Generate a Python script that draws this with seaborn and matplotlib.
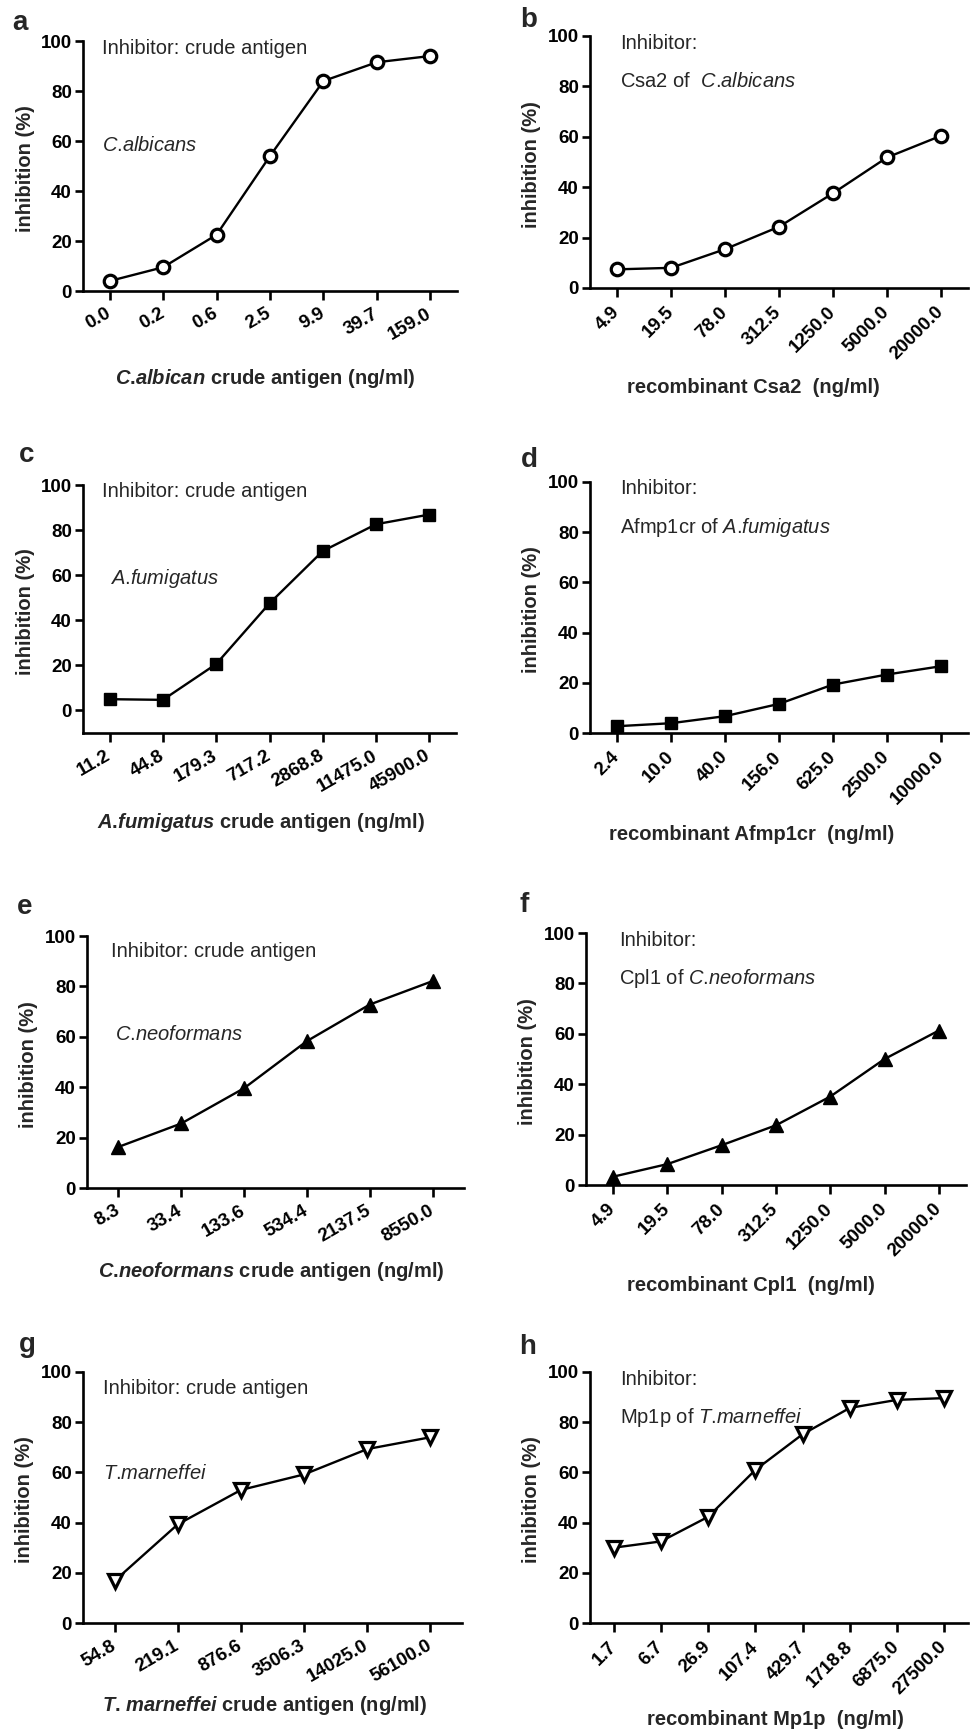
import matplotlib
matplotlib.use("Agg")
import matplotlib.pyplot as plt
import seaborn as sns

# ---------------- data ----------------
a_doses = ["0.0", "0.2", "0.6", "2.5", "9.9", "39.7", "159.0"]
a_inhib = [4.0, 9.5, 22.5, 54.0, 84.0, 91.5, 94.0]

b_doses = ["4.9", "19.5", "78.0", "312.5", "1250.0", "5000.0", "20000.0"]
b_inhib = [7.4, 8.0, 15.4, 24.3, 37.6, 51.8, 60.4]

c_doses = ["11.2", "44.8", "179.3", "717.2", "2868.8", "11475.0", "45900.0"]
c_inhib = [5.0, 4.7, 20.6, 47.5, 70.7, 82.6, 86.9]

d_doses = ["2.4", "10.0", "40.0", "156.0", "625.0", "2500.0", "10000.0"]
d_inhib = [2.7, 3.9, 6.7, 11.6, 19.3, 23.3, 26.6]

e_doses = ["8.3", "33.4", "133.6", "534.4", "2137.5", "8550.0"]
e_inhib = [16.3, 25.6, 39.6, 58.3, 72.8, 82.1]

f_doses = ["4.9", "19.5", "78.0", "312.5", "1250.0", "5000.0", "20000.0"]
f_inhib = [3.3, 8.3, 15.8, 23.7, 35.1, 50.0, 61.3]

g_doses = ["54.8", "219.1", "876.6", "3506.3", "14025.0", "56100.0"]
g_inhib = [16.8, 39.3, 53.0, 59.2, 69.3, 74.0]

h_doses = ["1.7", "6.7", "26.9", "107.4", "429.7", "1718.8", "6875.0", "27500.0"]
h_inhib = [30.0, 32.5, 42.3, 61.0, 75.2, 85.7, 88.9, 89.6]

panel_letters = ["a", "b", "c", "d", "e", "f", "g", "h"]
x_labels = [
    r"$\mathbfit{C}$.$\mathbfit{albican}$ crude antigen (ng/ml)",
    "recombinant Csa2  (ng/ml)",
    r"$\mathbfit{A}$.$\mathbfit{fumigatus}$ crude antigen (ng/ml)",
    "recombinant Afmp1cr  (ng/ml)",
    r"$\mathbfit{C}$.$\mathbfit{neoformans}$ crude antigen (ng/ml)",
    "recombinant Cpl1  (ng/ml)",
    r"$\mathbfit{T}$. $\mathbfit{marneffei}$ crude antigen (ng/ml)",
    "recombinant Mp1p  (ng/ml)",
]
note_top = ["Inhibitor: crude antigen", "Inhibitor:"] * 4
note_second = [
    r"$\mathit{C}$.$\mathit{albicans}$", r"Csa2 of  $\mathit{C}$.$\mathit{albicans}$",
    r"$\mathit{A}$.$\mathit{fumigatus}$", r"Afmp1cr of $\mathit{A}$.$\mathit{fumigatus}$",
    r"$\mathit{C}$.$\mathit{neoformans}$", r"Cpl1 of $\mathit{C}$.$\mathit{neoformans}$",
    r"$\mathit{T}$.$\mathit{marneffei}$", r"Mp1p of $\mathit{T}$.$\mathit{marneffei}$",
]
y_label = "inhibition (%)"
y_ticks = [0, 20, 40, 60, 80, 100]

doses = [a_doses, b_doses, c_doses, d_doses, e_doses, f_doses, g_doses, h_doses]
inhib = [a_inhib, b_inhib, c_inhib, d_inhib, e_inhib, f_inhib, g_inhib, h_inhib]

# ---------------- styles / layout ----------------
markers = ["o", "o", "s", "s", "^", "^", "v", "v"]
open_marker = [True, True, False, False, False, False, True, True]
marker_sizes = [9.0, 9.0, 9.0, 9.0, 9.5, 9.5, 9.5, 9.5]
rotations = [30, 45, 30, 45, 30, 45, 30, 45]
ymins = [0, 0, -10, 0, 0, 0, 0, 0]

W, H = 973, 1735
# (left, right, top, bottom) in pixels
boxes = [
    (83, 457, 41, 291), (590, 968, 36, 288),
    (83, 456, 485, 733), (590, 968, 482, 733),
    (87, 464, 936, 1188), (586, 966, 933, 1185),
    (83, 462, 1372, 1623), (590, 968, 1372, 1623),
]
letter_pos = [(20, 23), (529, 20), (27, 455), (529, 460),
              (25, 907), (524, 905), (27, 1345), (528, 1347)]
note_pos = [
    ((0.051, 0.972), (0.051, 0.584)), ((0.079, 0.972), (0.079, 0.82)),
    ((0.051, 0.972), (0.072, 0.625)), ((0.079, 0.976), (0.079, 0.82)),
    ((0.064, 0.94), (0.074, 0.61)), ((0.087, 0.972), (0.087, 0.82)),
    ((0.053, 0.936), (0.053, 0.594)), ((0.079, 0.972), (0.079, 0.82)),
]
xlabel_pos = [(0.487, -0.348), (0.431, -0.393), (0.477, -0.359), (0.428, -0.406),
              (0.49, -0.333), (0.434, -0.397), (0.48, -0.327), (0.49, -0.386)]

sns.set_style("ticks")
plt.rcParams["font.family"] = ["Liberation Sans", "DejaVu Sans"]
plt.rcParams["mathtext.fontset"] = "custom"
plt.rcParams["mathtext.rm"] = "Liberation Sans"
plt.rcParams["mathtext.it"] = "Liberation Sans:italic"
plt.rcParams["mathtext.bf"] = "Liberation Sans:bold"
plt.rcParams["mathtext.bfit"] = "Liberation Sans:italic:bold"
plt.rcParams["axes.linewidth"] = 1.9
plt.rcParams["xtick.major.width"] = 1.9
plt.rcParams["ytick.major.width"] = 1.9
plt.rcParams["xtick.major.size"] = 6.5
plt.rcParams["ytick.major.size"] = 6.0
plt.rcParams["axes.edgecolor"] = "black"
plt.rcParams["xtick.color"] = "black"
plt.rcParams["ytick.color"] = "black"

tick_font = dict(family=["Liberation Sans", "DejaVu Sans"], size=13.5, weight="bold")

fig = plt.figure(figsize=(W / 100, H / 100), dpi=100)
fig.patch.set_facecolor("white")

for i in range(8):
    l, r, t, b = boxes[i]
    ax = fig.add_axes([l / W, 1 - b / H, (r - l) / W, (b - t) / H])
    mfc = "white" if open_marker[i] else "black"
    mew = 2.3 if open_marker[i] else 1.0
    sns.pointplot(x=doses[i], y=inhib[i], order=doses[i], ax=ax,
                  color="black", markers=markers[i], linestyles="-",
                  errorbar=None, linewidth=1.7, markersize=marker_sizes[i],
                  markeredgewidth=mew, markerfacecolor=mfc,
                  markeredgecolor="black")
    n = len(doses[i])
    ax.set_xlim(-0.5, n - 0.5)
    ax.set_ylim(ymins[i], 100)
    ax.set_yticks(y_ticks)
    ax.set_yticklabels([str(v) for v in y_ticks], fontdict=tick_font)
    ax.set_xticks(range(n))
    ax.set_xticklabels(doses[i], rotation=rotations[i], ha="right", va="center",
                       rotation_mode="anchor", fontdict=tick_font)
    ax.tick_params(axis="x", pad=9)
    ax.tick_params(axis="y", pad=2)
    sns.despine(ax=ax)
    ax.set_xlabel(x_labels[i], fontsize=14.5, fontweight="bold", va="center")
    ax.xaxis.set_label_coords(*xlabel_pos[i])
    ax.set_ylabel(y_label, fontsize=14.5, fontweight="bold", va="center")
    ax.yaxis.set_label_coords(-0.155, 0.49)
    (p1, p2) = note_pos[i]
    ax.text(p1[0], p1[1], note_top[i], transform=ax.transAxes, fontsize=14.5,
            ha="left", va="center")
    ax.text(p2[0], p2[1], note_second[i], transform=ax.transAxes, fontsize=14.5,
            ha="left", va="center")
    lx, ly = letter_pos[i]
    fig.text(lx / W, 1 - ly / H, panel_letters[i], fontsize=20, fontweight="bold",
             ha="center", va="center")

fig.savefig("out.png", dpi=100, facecolor="white")
